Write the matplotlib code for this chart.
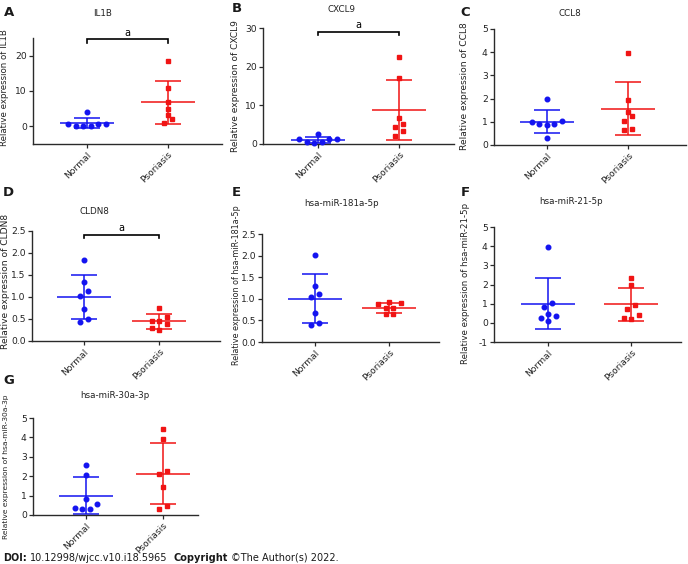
import numpy as np
import matplotlib
matplotlib.use("Agg")
import matplotlib.pyplot as plt

plt.rcParams['font.family'] = ['DejaVu Sans']
plt.rcParams['axes.unicode_minus'] = False

# === data (7 samples per group) ===
groups = ["Normal", "Psoriasis"]

il1b_normal = [4.1, 0.65, 0.2, 0.1, 0.1, 0.65, 0.65]
il1b_psoriasis = [18.6, 10.8, 6.8, 4.95, 3.2, 2.0, 1.0]
cxcl9_normal = [2.7, 1.2, 1.2, 1.2, 0.4, 0.4, 0.2]
cxcl9_psoriasis = [22.5, 17.0, 6.8, 5.2, 4.5, 3.4, 2.1]
ccl8_normal = [2.0, 1.03, 1.0, 0.9, 0.9, 0.87, 0.32]
ccl8_psoriasis = [3.95, 1.94, 1.41, 1.27, 1.05, 0.71, 0.65]
cldn8_normal = [1.85, 1.34, 1.14, 1.03, 0.72, 0.5, 0.44]
cldn8_psoriasis = [0.74, 0.54, 0.46, 0.46, 0.38, 0.30, 0.25]
mir181a_normal = [2.02, 1.30, 1.12, 1.04, 0.67, 0.44, 0.39]
mir181a_psoriasis = [0.92, 0.90, 0.87, 0.78, 0.78, 0.64, 0.64]
mir21_normal = [3.97, 1.03, 0.83, 0.47, 0.37, 0.24, 0.12]
mir21_psoriasis = [2.33, 1.95, 0.92, 0.71, 0.40, 0.24, 0.21]
mir30a_normal = [2.58, 2.06, 0.85, 0.55, 0.35, 0.29, 0.29]
mir30a_psoriasis = [4.45, 3.91, 2.28, 2.13, 1.42, 0.47, 0.31]

# === layout (figure pixels: left, top, right, bottom) ===
W, H = 688, 564
panels = [
    dict(letter="A", title="IL1B", gene="IL1B", data=(il1b_normal, il1b_psoriasis),
         rect=(33, 38, 222, 144), ylim=(-5, 25), yticks=[0, 10, 20], xlim=(-0.668, 1.668),
         title_xy=(103, 13), letter_xy=(4, 12), ylab=(9.5, 88, 6.2), sig=24.6),
    dict(letter="B", title="CXCL9", gene="CXCL9", data=(cxcl9_normal, cxcl9_psoriasis),
         rect=(263, 28, 454, 144), ylim=(0, 30), yticks=[0, 10, 20, 30], xlim=(-0.68, 1.68),
         title_xy=(342, 10), letter_xy=(232, 8), ylab=(239.5, 86, 6.5), sig=29.0),
    dict(letter="C", title="CCL8", gene="CCL8", data=(ccl8_normal, ccl8_psoriasis),
         rect=(494, 29, 686, 145), ylim=(0, 5), yticks=[0, 1, 2, 3, 4, 5], xlim=(-0.654, 1.716),
         title_xy=(570, 13), letter_xy=(460, 12), ylab=(468.5, 86, 6.6), sig=None),
    dict(letter="D", title="CLDN8", gene="CLDN8", data=(cldn8_normal, cldn8_psoriasis),
         rect=(32, 231, 220, 341), ylim=(0, 2.5), yticks=[0, 0.5, 1.0, 1.5, 2.0, 2.5],
         xlim=(-0.694, 1.812), title_xy=(94, 212), letter_xy=(3, 192),
         ylab=(10, 281, 6.6), sig=2.42),
    dict(letter="E", title="hsa-miR-181a-5p", gene="hsa-miR-181a-5p",
         data=(mir181a_normal, mir181a_psoriasis),
         rect=(262, 234, 439, 342), ylim=(0, 2.5), yticks=[0, 0.5, 1.0, 1.5, 2.0, 2.5],
         xlim=(-0.714, 1.666), title_xy=(342, 204), letter_xy=(232, 193),
         ylab=(241, 285, 5.8), sig=None),
    dict(letter="F", title="hsa-miR-21-5p", gene="hsa-miR-21-5p",
         data=(mir21_normal, mir21_psoriasis),
         rect=(494, 227, 681, 342), ylim=(-1, 5), yticks=[-1, 0, 1, 2, 3, 4, 5],
         xlim=(-0.65, 1.60), title_xy=(571, 202), letter_xy=(461, 193),
         ylab=(470, 283, 6.2), sig=None),
    dict(letter="G", title="hsa-miR-30a-3p", gene="hsa-miR-30a-3p",
         data=(mir30a_normal, mir30a_psoriasis),
         rect=(33, 418, 198, 515), ylim=(0, 5), yticks=[0, 1, 2, 3, 4, 5],
         xlim=(-0.687, 1.455), title_xy=(115, 395), letter_xy=(3, 380),
         ylab=(9.5, 467, 5.4), sig=None),
]

colors = ["#1414f0", "#f01414"]
markers = ["o", "s"]
STEP_PX = 7.5     # horizontal spacing of overlapping dots
ROW_PX = 6.0      # dots closer than this (vertically) share a row
MEAN_HALF_PX = 27
CAP_HALF_PX = 13
AX_COLOR = "#2a2a2a"


def row_offsets(values, px_per_unit):
    """Prism-like scatter: points of similar value are spread in a row."""
    vals = np.asarray(values, float)
    order = np.argsort(vals, kind="stable")
    offs = np.zeros(len(vals))
    i = 0
    while i < len(order):
        j = i
        while j + 1 < len(order) and (vals[order[j + 1]] - vals[order[i]]) * px_per_unit < ROW_PX:
            j += 1
        n = j - i + 1
        if n % 2:
            slots = [0] + [s for k in range(1, n) for s in (-k, k)]
        else:
            slots = [s for k in range(n) for s in (-(k + 0.5), k + 0.5)]
        for k, idx in enumerate(order[i:j + 1]):
            offs[idx] = slots[k]
        i = j + 1
    return offs


fig = plt.figure(figsize=(W / 100, H / 100), dpi=100)

for p in panels:
    l, t, r, b = p["rect"]
    ax = fig.add_axes([l / W, 1 - b / H, (r - l) / W, (b - t) / H])
    ax.set_xlim(*p["xlim"])
    ax.set_ylim(*p["ylim"])
    xppu = (r - l) / (p["xlim"][1] - p["xlim"][0])
    yppu = (b - t) / (p["ylim"][1] - p["ylim"][0])

    for gi, vals in enumerate(p["data"]):
        vals = np.asarray(vals, float)
        xs = gi + row_offsets(vals, yppu) * STEP_PX / xppu
        ax.plot(xs, vals, linestyle="none", marker=markers[gi], ms=3.3,
                color=colors[gi], mec=colors[gi], zorder=3, clip_on=False)
        m, sd = vals.mean(), vals.std(ddof=1)
        mw, cw = MEAN_HALF_PX / xppu, CAP_HALF_PX / xppu
        ax.hlines(m, gi - mw, gi + mw, color=colors[gi], lw=1.1, zorder=2)
        ax.vlines(gi, m - sd, m + sd, color=colors[gi], lw=1.1, zorder=2)
        ax.hlines([m - sd, m + sd], gi - cw, gi + cw, color=colors[gi], lw=1.1, zorder=2)

    if p["sig"] is not None:
        y0 = p["sig"]
        leg = 3.5 / yppu
        ax.plot([0, 0, 1, 1], [y0 - leg, y0, y0, y0 - leg], color="black", lw=1.2,
                clip_on=False, solid_joinstyle="miter")
        ax.text(0.5, y0 + 1.5 / yppu, "a", ha="center", va="bottom", fontsize=7)

    for side in ["top", "right"]:
        ax.spines[side].set_visible(False)
    for side in ["left", "bottom"]:
        ax.spines[side].set_color(AX_COLOR)
        ax.spines[side].set_linewidth(1.0)

    ax.set_yticks(p["yticks"])
    ax.set_xticks([0, 1])
    ax.set_xticklabels(groups, rotation=45, ha="right", rotation_mode="anchor")
    ax.tick_params(axis="both", length=3, width=0.9, color=AX_COLOR,
                   labelsize=6.6, pad=1.5, labelcolor="#222222")

    lab_x, lab_y, lab_fs = p["ylab"]
    ax.set_ylabel("Relative expression of " + p["gene"], fontsize=lab_fs, color="#222222")
    ax.yaxis.set_label_coords((lab_x - l) / (r - l), (b - lab_y) / (b - t))

    tx, ty = p["title_xy"]
    fig.text(tx / W, 1 - ty / H, p["title"], ha="center", va="center", fontsize=6.3,
             color="#222222")
    lx, ly = p["letter_xy"]
    fig.text(lx / W, 1 - ly / H, p["letter"], ha="left", va="center", fontsize=9.5,
             fontweight="bold", color="#1a1a1a")

# === footer ===
renderer = fig.canvas.get_renderer()
space = 7 * 100 / 72 * 0.32
x = 3
for txt, weight, gap in [("DOI:", "bold", 1), ("10.12998/wjcc.v10.i18.5965", "normal", 2),
                         ("Copyright", "bold", 1), ("\u00a9The Author(s) 2022.", "normal", 0)]:
    tt = fig.text(x / W, 1 - 561 / H, txt, ha="left", va="baseline", fontsize=7,
                  fontweight=weight, color="#1a1a1a")
    x += tt.get_window_extent(renderer).width + gap * space

fig.savefig("out.png", dpi=100)
